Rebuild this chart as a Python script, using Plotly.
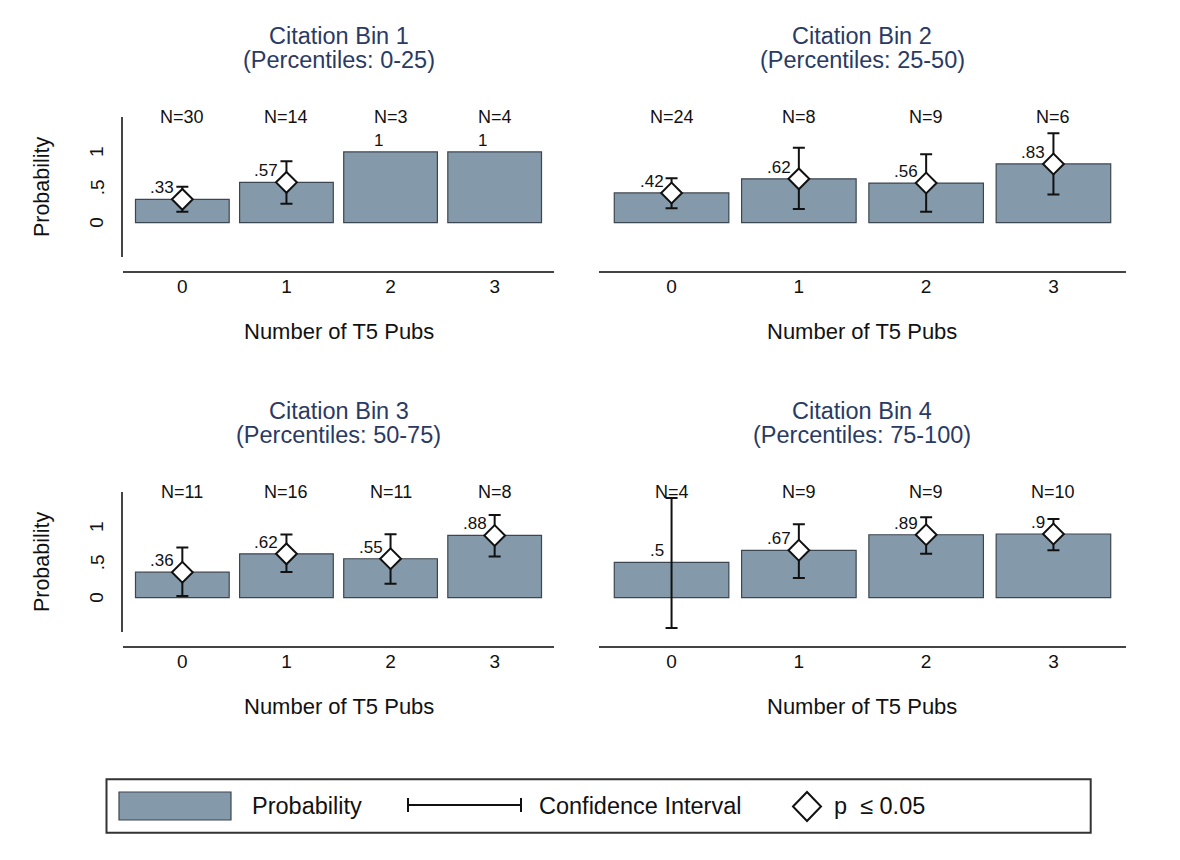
import plotly.graph_objects as go

# page body has an 8px default margin; the figure fills the rest of the window
OFF = 8
W, H = 1180 - 2 * OFF, 860 - 2 * OFF

# ---------------- data ----------------
pubs = [0, 1, 2, 3]
tick_labels = ["0", "1", "2", "3"]
y_tickvals = [0, 0.5, 1]
y_ticktext = ["0", ".5", "1"]

bin_titles = ["Citation Bin 1", "Citation Bin 2", "Citation Bin 3", "Citation Bin 4"]
bin_subtitles = ["(Percentiles: 0-25)", "(Percentiles: 25-50)",
                 "(Percentiles: 50-75)", "(Percentiles: 75-100)"]

prob_bin1 = [0.33, 0.57, 1.0, 1.0]
prob_bin2 = [0.42, 0.62, 0.56, 0.83]
prob_bin3 = [0.36, 0.62, 0.55, 0.88]
prob_bin4 = [0.5, 0.67, 0.89, 0.9]

n_bin1 = [30, 14, 3, 4]
n_bin2 = [24, 8, 9, 6]
n_bin3 = [11, 16, 11, 8]
n_bin4 = [4, 9, 9, 10]

ci_lo_bin1 = [0.156, 0.269, None, None]
ci_hi_bin1 = [0.509, 0.868, None, None]
ci_lo_bin2 = [0.204, 0.194, 0.156, 0.40]
ci_hi_bin2 = [0.628, 1.06, 0.967, 1.264]
ci_lo_bin3 = [0.024, 0.362, 0.197, 0.583]
ci_hi_bin3 = [0.71, 0.893, 0.897, 1.169]
ci_lo_bin4 = [-0.43, 0.277, 0.62, 0.67]
ci_hi_bin4 = [1.408, 1.038, 1.136, 1.113]

sig_bin1 = [True, True, False, False]
sig_bin2 = [True, True, True, True]
sig_bin3 = [True, True, True, True]
sig_bin4 = [False, True, True, True]

probs = [prob_bin1, prob_bin2, prob_bin3, prob_bin4]
ns = [n_bin1, n_bin2, n_bin3, n_bin4]
ci_los = [ci_lo_bin1, ci_lo_bin2, ci_lo_bin3, ci_lo_bin4]
ci_his = [ci_hi_bin1, ci_hi_bin2, ci_hi_bin3, ci_hi_bin4]
sigs = [sig_bin1, sig_bin2, sig_bin3, sig_bin4]

# ---------------- style ----------------
FONT = "Liberation Sans, Arial, Helvetica, sans-serif"
BAR_COLOR = "#8499aa"
BAR_LINE = "#3c4650"
INK = "#111111"
TITLE_COLOR = "#2a3a64"
AXIS_COLOR = "#444444"


def fx(px):
    return (px - OFF) / W


def fy(py):
    return 1 - (py - OFF) / H


def fmt(v):
    s = f"{v:.2f}".lstrip("0").rstrip("0").rstrip(".")
    return s if s else "0"


# panel geometry (window pixels)
cols = [(123, 554), (599, 1126)]
rows = [dict(top=116.6, bot=256.6, xline=271.7, t1=36, t2=60, xt=331),
        dict(top=491.6, bot=631.6, xline=646.7, t1=411, t2=435, xt=706)]
YR = [-0.48, 1.5]
XR = [-0.57, 3.57]

fig = go.Figure()
layout = dict(width=W, height=H, margin=dict(l=0, r=0, t=0, b=0),
              paper_bgcolor="white", plot_bgcolor="white", showlegend=False,
              font=dict(family=FONT, color=INK))
annotations = []
shapes = []

for i in range(4):
    k = i + 1
    c = cols[i % 2]
    r = rows[i // 2]
    xa = f"x{k}"
    ya = f"y{k}"
    left = (i % 2 == 0)

    layout[f"xaxis{k}"] = dict(
        domain=[fx(c[0]), fx(c[1])], range=XR, anchor="free", position=fy(r["xline"]),
        showline=True, linecolor=AXIS_COLOR, linewidth=1.6, showgrid=False, zeroline=False,
        tickmode="array", tickvals=pubs, ticktext=tick_labels, ticks="",
        tickfont=dict(size=19, color=INK), ticklabelstandoff=-2, fixedrange=True)
    layout[f"yaxis{k}"] = dict(
        domain=[fy(r["bot"]), fy(r["top"])], range=YR, anchor=xa,
        showline=left, linecolor=AXIS_COLOR, linewidth=1.6, showgrid=False, zeroline=False,
        tickmode="array", tickvals=y_tickvals, ticks="", showticklabels=False, fixedrange=True)

    if left:
        for tv, tt in zip(y_tickvals, y_ticktext):
            annotations.append(dict(x=fx(97), y=tv, xref="paper", yref=ya, text=tt,
                                    textangle=-90, showarrow=False, xanchor="center",
                                    yanchor="middle", font=dict(size=19, color=INK)))

    p = probs[i]
    fig.add_trace(go.Bar(x=pubs, y=p, width=0.9, xaxis=xa, yaxis=ya,
                         marker=dict(color=BAR_COLOR, line=dict(color=BAR_LINE, width=1.2)),
                         hoverinfo="skip"))

    idx = [j for j in range(4) if ci_los[i][j] is not None]
    fig.add_trace(go.Scatter(
        x=[pubs[j] for j in idx], y=[p[j] for j in idx], xaxis=xa, yaxis=ya,
        mode="markers", marker=dict(size=2, color="rgba(0,0,0,0)"),
        error_y=dict(type="data", symmetric=False,
                     array=[ci_his[i][j] - p[j] for j in idx],
                     arrayminus=[p[j] - ci_los[i][j] for j in idx],
                     color=INK, thickness=2, width=6),
        hoverinfo="skip"))

    sidx = [j for j in range(4) if sigs[i][j]]
    fig.add_trace(go.Scatter(
        x=[pubs[j] for j in sidx], y=[p[j] for j in sidx], xaxis=xa, yaxis=ya,
        mode="markers",
        marker=dict(symbol="diamond", size=16, color="white", line=dict(color=INK, width=2)),
        hoverinfo="skip"))

    for j in range(4):
        annotations.append(dict(x=pubs[j], y=YR[1], xref=xa, yref=ya, text=f"N={ns[i][j]}",
                                showarrow=False, yanchor="middle", xanchor="center",
                                font=dict(size=18, color=INK)))
        annotations.append(dict(x=pubs[j], y=p[j], xref=xa, yref=ya, text=fmt(p[j]),
                                showarrow=False, yanchor="bottom", xanchor="right",
                                xshift=-6, yshift=0, font=dict(size=17, color=INK)))

    cx = fx((c[0] + c[1]) / 2)
    annotations.append(dict(x=cx, y=fy(r["t1"]), xref="paper", yref="paper", text=bin_titles[i],
                            showarrow=False, yanchor="middle", xanchor="center",
                            font=dict(size=23.5, color=TITLE_COLOR)))
    annotations.append(dict(x=cx, y=fy(r["t2"]), xref="paper", yref="paper", text=bin_subtitles[i],
                            showarrow=False, yanchor="middle", xanchor="center",
                            font=dict(size=23.5, color=TITLE_COLOR)))
    annotations.append(dict(x=cx, y=fy(r["xt"]), xref="paper", yref="paper", text="Number of T5 Pubs",
                            showarrow=False, yanchor="middle", xanchor="center",
                            font=dict(size=22, color=INK)))
    if left:
        annotations.append(dict(x=fx(41.5), y=fy((r["top"] + r["bot"]) / 2), xref="paper", yref="paper",
                                text="Probability", textangle=-90, showarrow=False,
                                xanchor="center", yanchor="middle", font=dict(size=21.5, color=INK)))

# ---------------- legend ----------------
shapes.append(dict(type="rect", xref="paper", yref="paper", x0=fx(106.5), x1=fx(1090.7),
                   y0=fy(832.7), y1=fy(779.3), line=dict(color="#333333", width=2),
                   fillcolor="white", layer="below"))
shapes.append(dict(type="rect", xref="paper", yref="paper", x0=fx(119), x1=fx(231),
                   y0=fy(820), y1=fy(792), line=dict(color=BAR_LINE, width=1.2), fillcolor=BAR_COLOR))
shapes.append(dict(type="line", xref="paper", yref="paper", x0=fx(408), x1=fx(521),
                   y0=fy(805), y1=fy(805), line=dict(color=INK, width=2)))
for xc in (408, 521):
    shapes.append(dict(type="line", xref="paper", yref="paper", x0=fx(xc), x1=fx(xc),
                       y0=fy(798), y1=fy(812), line=dict(color=INK, width=2)))
dcx, dcy, dhw, dhh = 807, 806.5, 14, 14.5
shapes.append(dict(type="path", xref="paper", yref="paper",
                   path=(f"M {fx(dcx - dhw)},{fy(dcy)} L {fx(dcx)},{fy(dcy - dhh)} "
                         f"L {fx(dcx + dhw)},{fy(dcy)} L {fx(dcx)},{fy(dcy + dhh)} Z"),
                   fillcolor="white", line=dict(color=INK, width=2)))
for txt, xl in (("Probability", 250), ("Confidence Interval", 537), ("p\u00a0 \u2264 0.05", 832)):
    annotations.append(dict(x=fx(xl), y=fy(806), xref="paper", yref="paper", text=txt,
                            showarrow=False, xanchor="left", yanchor="middle",
                            font=dict(size=23.5, color=INK)))

layout["annotations"] = annotations
layout["shapes"] = shapes
fig.update_layout(**layout)

fig.write_html("out.html")
